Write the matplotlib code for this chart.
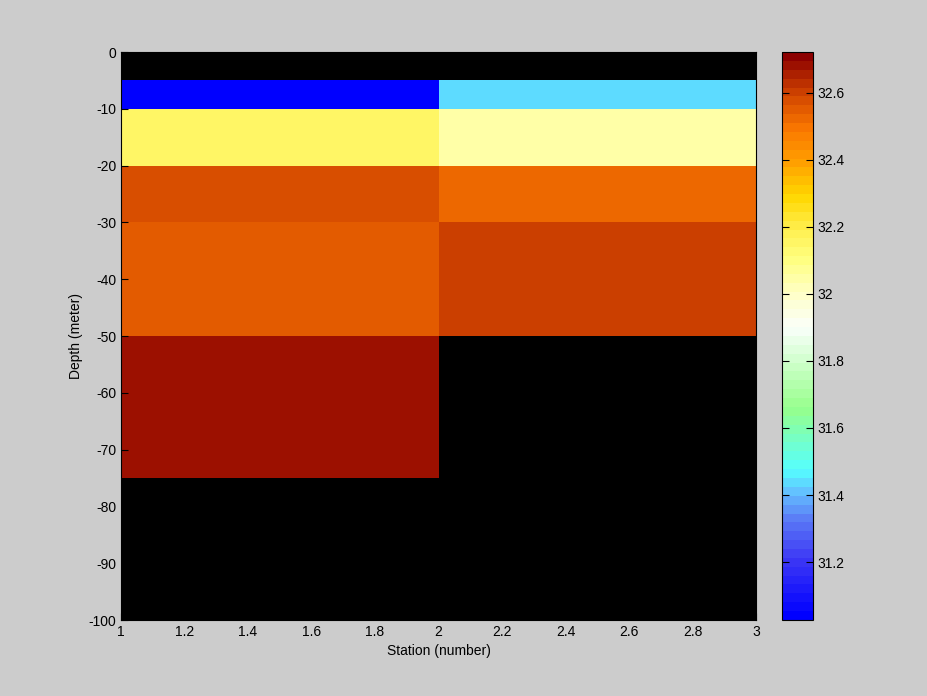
import numpy as np
import matplotlib
matplotlib.use("Agg")
import matplotlib.pyplot as plt
from matplotlib.colors import LinearSegmentedColormap

plt.rcParams["font.family"] = ["Liberation Sans", "DejaVu Sans"]
plt.rcParams["font.size"] = 10
plt.rcParams["axes.unicode_minus"] = False

# station edges and depth edges of the section
STATIONS = [1, 2, 3]
DEPTHS = [0, -5, -10, -20, -30, -50, -75, -100]

# salinity per layer (rows = depth layers, cols = station cells), nan = no data
SAL_ST1 = [np.nan, 31.03, 32.16, 32.58, 32.55, 32.675, np.nan]
SAL_ST2 = [np.nan, 31.43, 32.05, 32.52, 32.605, np.nan, np.nan]

VMIN, VMAX = 31.027, 32.722
CB_TICKS = [31.2, 31.4, 31.6, 31.8, 32.0, 32.2, 32.4, 32.6]
CB_LABELS = ["31.2", "31.4", "31.6", "31.8", "32", "32.2", "32.4", "32.6"]

# blue - cyan - green - white - yellow - orange - dark red, 64 steps
anchors = [
    (0.00, (0, 0, 255)),
    (0.10, (60, 55, 245)),
    (0.17, (90, 120, 245)),
    (0.22, (100, 190, 255)),
    (0.26, (85, 255, 255)),
    (0.37, (150, 255, 140)),
    (0.515, (250, 255, 250)),
    (0.575, (255, 255, 200)),
    (0.635, (255, 255, 130)),
    (0.69, (255, 240, 80)),
    (0.75, (255, 215, 0)),
    (0.81, (255, 160, 0)),
    (0.87, (250, 120, 0)),
    (0.93, (210, 70, 0)),
    (1.00, (140, 0, 0)),
]
cmap = LinearSegmentedColormap.from_list(
    "sect", [(p, tuple(c / 255 for c in rgb)) for p, rgb in anchors], N=64)

BG = "#cccccc"
fig = plt.figure(figsize=(9.28, 6.96), dpi=100, facecolor=BG)
ax = fig.add_axes([121 / 928, 76 / 696, 635 / 928, 568 / 696])
cax = fig.add_axes([782 / 928, 76 / 696, 31 / 928, 568 / 696])

data = np.ma.masked_invalid(np.column_stack([SAL_ST1, SAL_ST2]))
ax.set_facecolor("black")
mesh = ax.pcolormesh(STATIONS, DEPTHS, data, cmap=cmap, vmin=VMIN, vmax=VMAX)
ax.set_xlim(1, 3)
ax.set_ylim(-100, 0)
ax.set_xticks(np.arange(1, 3.01, 0.2))
ax.set_xticklabels(["1", "1.2", "1.4", "1.6", "1.8", "2", "2.2", "2.4", "2.6", "2.8", "3"])
ax.set_yticks(np.arange(-100, 1, 10))
ax.tick_params(direction="in", length=5, colors="black", labelcolor="black")
ax.set_xlabel("Station (number)", labelpad=4)
ax.set_ylabel("Depth (meter)", labelpad=4)
for s in ax.spines.values():
    s.set_color("black")

cb = fig.colorbar(mesh, cax=cax)
cb.set_ticks(CB_TICKS)
cb.set_ticklabels(CB_LABELS)
cax.tick_params(direction="in", length=5, left=True, right=True, colors="black")
cb.outline.set_edgecolor("black")

fig.savefig("out.png", dpi=100, facecolor=BG)
